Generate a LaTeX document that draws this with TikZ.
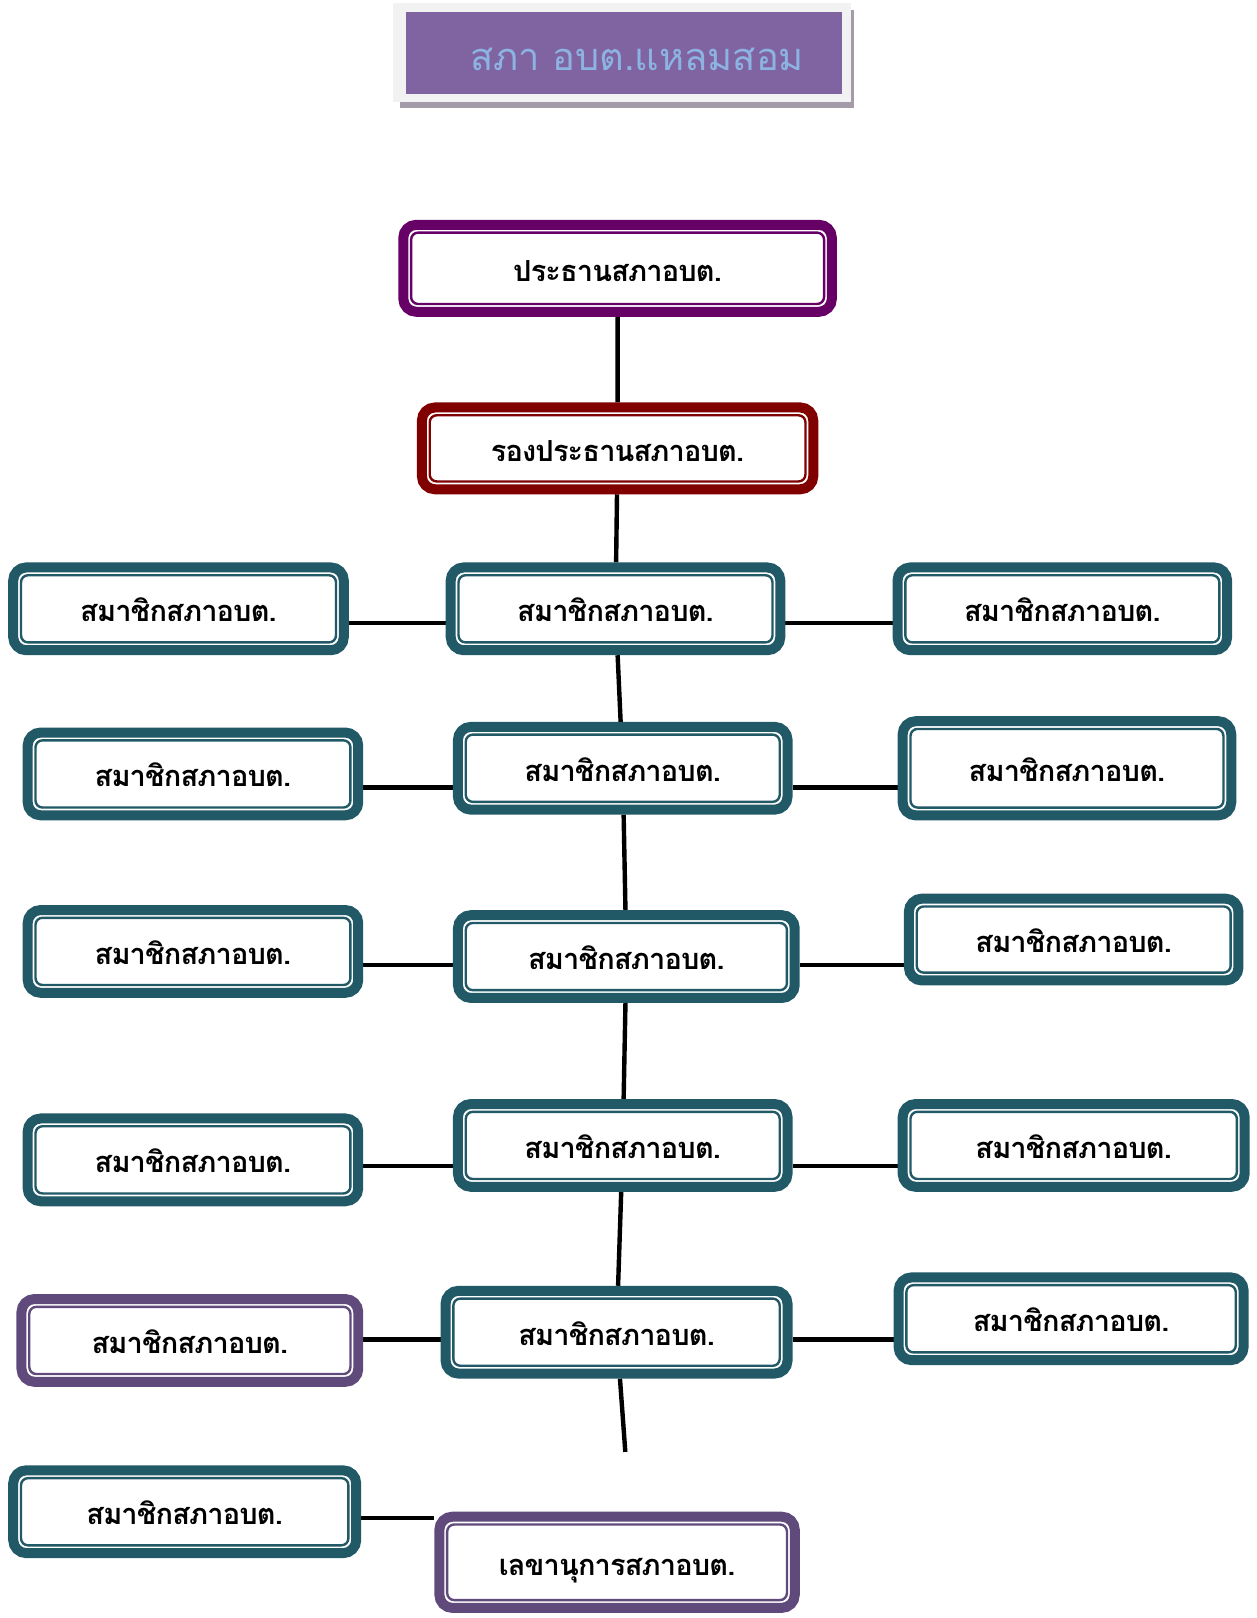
\documentclass[tikz,border=0pt]{standalone}
\usepackage{fontspec}
\newfontfamily\thaifont[Script=Thai]{Loma}
\newfontfamily\thaitight[Script=Thai, LetterSpace=-3]{Loma}
\usetikzlibrary{backgrounds}
\begin{document}
\begin{tikzpicture}[x=0.516pt,y=-0.516pt]
        %colores
        \definecolor{presc}{RGB}{102,0,102}
        \definecolor{vicec}{RGB}{128,0,0}
        \definecolor{memc}{RGB}{33,89,103}
        \definecolor{purc}{RGB}{96,74,123}
        \definecolor{titlec}{RGB}{128,100,162}
        \definecolor{titletxt}{RGB}{141,179,226}
        \definecolor{framec}{RGB}{242,242,242}
        \definecolor{shadowc}{RGB}{163,155,170}
        \tikzset{
            box/.style={draw=#1, line width=5pt, rounded corners=6.5pt, fill=white,
                minimum height=41.4pt, inner sep=0pt, text height=14pt, text depth=1pt,
                font=\thaitight\bfseries\fontsize{14.5}{17}\selectfont},
            link/.style={line width=2.2pt, black}
        }
        \useasboundingbox (0,0) rectangle (1218,1568);

        % Titulo
        \fill[shadowc] (388,10) rectangle (828,105);
        \fill[framec] (381,3) rectangle (825,99);
        \fill[titlec] (393,12) rectangle (816,91);
        \node[text=titletxt, font=\thaifont\fontsize{19}{23}\selectfont] (title) at (617.5,58) {สภา อบต.แหลมสอม};

        % Presidencia
        \node[box=presc, minimum width=214.3pt, minimum height=43.5pt] (pres) at (598.5,260) {ประธานสภาอบต.};
        \node[box=vicec, minimum width=195.7pt, minimum height=40.9pt] (vice) at (598.5,434.5) {รองประธานสภาอบต.};

        % Fila 1
        \node[box=memc, minimum width=165.3pt] (l1) at (173,590) {สมาชิกสภาอบต.};
        \node[box=memc, minimum width=164.8pt] (c1) at (596.5,590) {สมาชิกสภาอบต.};
        \node[box=memc, minimum width=164.8pt] (r1) at (1029.5,590) {สมาชิกสภาอบต.};
        % Fila 2
        \node[box=memc, minimum width=165.3pt] (l2) at (187,750) {สมาชิกสภาอบต.};
        \node[box=memc, minimum width=164.8pt] (c2) at (603.5,744.5) {สมาชิกสภาอบต.};
        \node[box=memc, minimum width=164.3pt, minimum height=47.1pt] (r2) at (1034,744.5) {สมาชิกสภาอบต.};
        % Fila 3
        \node[box=memc, minimum width=165.3pt] (l3) at (187,922) {สมาชิกสภาอบต.};
        \node[box=memc, minimum width=168.4pt] (c3) at (607,927) {สมาชิกสภาอบต.};
        \node[box=memc, minimum width=164.8pt, minimum height=40.9pt] (r3) at (1040.5,910.5) {สมาชิกสภาอบต.};
        % Fila 4
        \node[box=memc, minimum width=165.3pt] (l4) at (187,1124) {สมาชิกสภาอบต.};
        \node[box=memc, minimum width=164.8pt] (c4) at (603.5,1110) {สมาชิกสภาอบต.};
        \node[box=memc, minimum width=171pt] (r4) at (1040.5,1110) {สมาชิกสภาอบต.};
        % Fila 5
        \node[box=purc, minimum width=168.4pt] (l5) at (184,1299) {สมาชิกสภาอบต.};
        \node[box=memc, minimum width=171pt] (c5) at (597.5,1291) {สมาชิกสภาอบต.};
        \node[box=memc, minimum width=172.5pt] (r5) at (1038,1278) {สมาชิกสภาอบต.};
        % Fila 6
        \node[box=memc, minimum width=171.5pt] (l6) at (179,1465) {สมาชิกสภาอบต.};
        \node[box=purc, minimum width=177.7pt, minimum height=45.6pt] (sec) at (598,1514) {เลขานุการสภาอบต.};

        % Lineas interiores
        \foreach \n/\col in {pres/presc, vice/vicec, l1/memc, c1/memc, r1/memc, l2/memc, c2/memc, r2/memc,
            l3/memc, c3/memc, r3/memc, l4/memc, c4/memc, r4/memc, l5/purc, c5/memc, r5/memc, l6/memc, sec/purc}
            \draw[draw=\col, line width=1.2pt, rounded corners=3.5pt] ([shift={(6.4pt,6.4pt)}]\n.south west) rectangle ([shift={(-6.4pt,-6.4pt)}]\n.north east);

        % Conectores
        \coordinate (h1) at (0,604);
        \coordinate (h2) at (0,763);
        \coordinate (h3) at (0,935);
        \coordinate (h4) at (0,1130);
        \coordinate (h5) at (0,1298);
        \coordinate (h6) at (0,1471);
        \coordinate (tail) at (606,1407);
        \begin{scope}[on background layer]
            \draw[link] (pres) -- (vice) -- (c1) -- (c2) -- (c3) -- (c4) -- (c5) -- (tail);
            \foreach \r in {1,...,5}
            \draw[link] (l\r.east |- h\r) -- (c\r.west |- h\r) (c\r.east |- h\r) -- (r\r.west |- h\r);
            \draw[link] (l6.east |- h6) -- (sec.west |- h6);
        \end{scope}
\end{tikzpicture}
\end{document}
